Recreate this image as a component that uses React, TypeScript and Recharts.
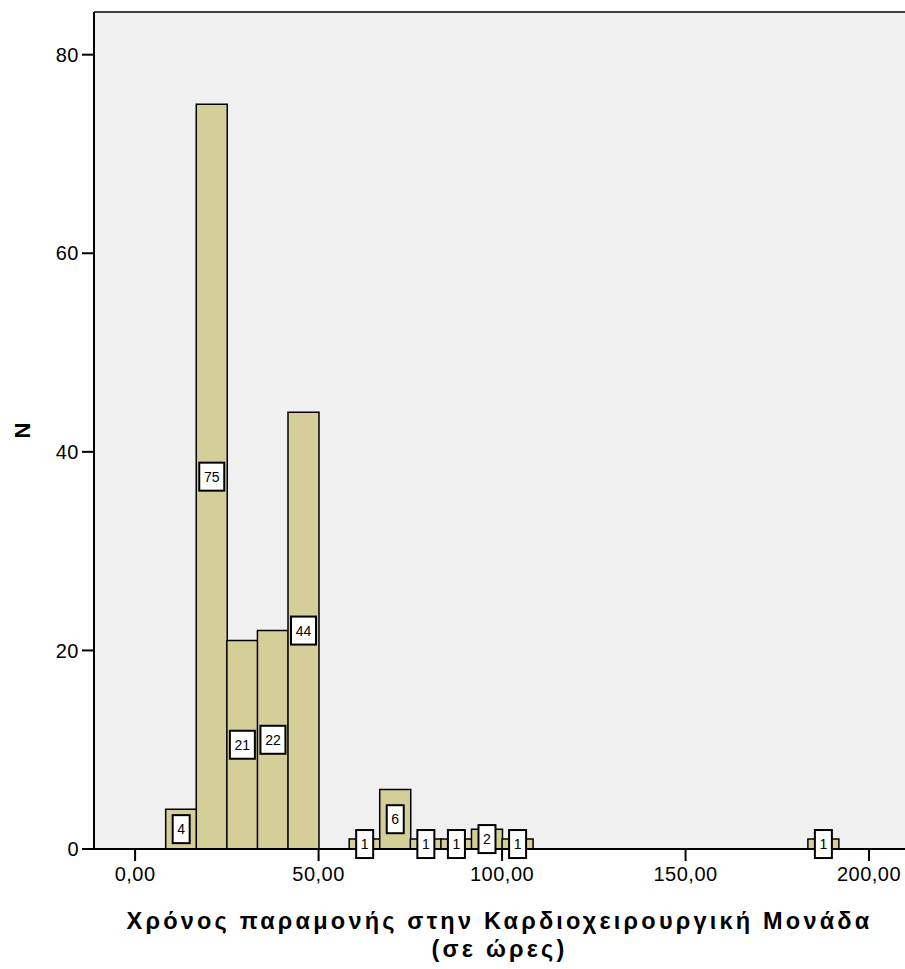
import { ComposedChart, Bar, XAxis, YAxis, CartesianGrid, ReferenceLine, LabelList } from 'recharts';

// bin centres (hours) and counts, bin width 8.33 h
const binCenters = [12.5, 20.83, 29.17, 37.5, 45.83, 62.5, 70.83, 79.17, 87.5, 95.83, 104.17, 187.5];
const counts = [4, 75, 21, 22, 44, 1, 6, 1, 1, 2, 1, 1];
const xTicks = [0, 50, 100, 150, 200];
const yTicks = [0, 20, 40, 60, 80];

const data = binCenters.map((x, i) => ({ x, n: counts[i] }));

const X_MIN = -11.2;
const X_MAX = 209.8;
const Y_MAX = 84.3;

const W = 905;
const H = 969;
const PLOT_LEFT = 94;

const FONT = '"Liberation Sans", Arial, sans-serif';

function CountLabel(props: any) {
  const { x, y, width, height, value } = props;
  const s = String(value);
  const bw = s.length > 1 ? 25 : 17;
  const bh = 28;
  const cx = x + width / 2;
  const cy = y + height / 2;
  return (
    <g>
      <rect x={cx - bw / 2} y={cy - bh / 2} width={bw} height={bh} fill="#fff" stroke="#000" strokeWidth={2} />
      <text x={cx} y={cy + 5} textAnchor="middle" fontSize={14} fontFamily={FONT} fill="#000">{s}</text>
    </g>
  );
}

function YTitle(props: any) {
  const vb = props.viewBox;
  const cy = vb.y + vb.height / 2;
  return (
    <text x={22} y={cy} transform={`rotate(-90, 22, ${cy})`} textAnchor="middle" dominantBaseline="central"
      fontSize={22} fontWeight="bold" fontFamily={FONT} fill="#000">N</text>
  );
}

function XTitle(props: any) {
  const vb = props.viewBox;
  const cx = vb.x + vb.width / 2;
  return (
    <text textAnchor="middle" fontSize={23.5} fontWeight="bold" fontFamily={FONT} fill="#000" letterSpacing={3.2}>
      <tspan x={cx} y={929}>Χρόνος παραμονής στην Καρδιοχειρουργική Μονάδα</tspan>
      <tspan x={cx} y={957}>(σε ώρες)</tspan>
    </text>
  );
}

export default function App() {
  return (
    <div style={{ position: 'absolute', left: 0, top: 0 }}>
      <ComposedChart width={W} height={H} data={data} barCategoryGap={0} barGap={0}
        margin={{ top: 12, right: 0, bottom: 0, left: 0 }}>
        <CartesianGrid horizontal={false} vertical={false} fill="#f0f0f0" />
        <ReferenceLine y={Y_MAX} stroke="#000" strokeWidth={1.5} />
        <XAxis
          dataKey="x"
          type="number"
          domain={[X_MIN, X_MAX]}
          ticks={xTicks}
          allowDataOverflow
          tickFormatter={(v: number) => v.toFixed(2).replace('.', ',')}
          tick={{ fontSize: 20, fontFamily: FONT, fill: '#000', letterSpacing: 0.5 }}
          tickSize={12}
          tickMargin={6}
          axisLine={{ stroke: '#000', strokeWidth: 2 }}
          tickLine={{ stroke: '#000', strokeWidth: 2 }}
          height={120}
          label={{ content: XTitle }}
        />
        <YAxis
          type="number"
          domain={[0, Y_MAX]}
          ticks={yTicks}
          allowDataOverflow
          tick={{ fontSize: 20, fontFamily: FONT, fill: '#000', letterSpacing: 0.5 }}
          tickSize={12}
          tickMargin={3}
          axisLine={{ stroke: '#000', strokeWidth: 2 }}
          tickLine={{ stroke: '#000', strokeWidth: 2 }}
          width={PLOT_LEFT}
          label={{ content: YTitle }}
        />
        <Bar dataKey="n" fill="#d4cf99" stroke="#000" strokeWidth={1.5} isAnimationActive={false}>
          <LabelList dataKey="n" content={CountLabel} />
        </Bar>
      </ComposedChart>
    </div>
  );
}
